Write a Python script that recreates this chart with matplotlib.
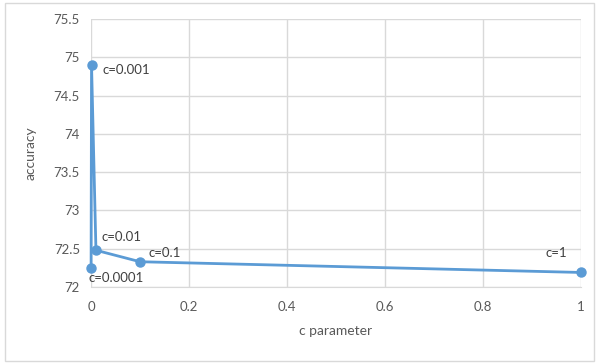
import matplotlib
matplotlib.use("Agg")
import matplotlib.pyplot as plt
from matplotlib.patches import Rectangle

c_values = [0.0001, 0.001, 0.01, 0.1, 1]
accuracy = [72.25, 74.9, 72.48, 72.33, 72.19]
point_labels = ["c=0.0001", "c=0.001", "c=0.01", "c=0.1", "c=1"]
x_ticks = [0, 0.2, 0.4, 0.6, 0.8, 1]
x_ticklabels = ["0", "0.2", "0.4", "0.6", "0.8", "1"]
y_ticks = [72, 72.5, 73, 73.5, 74, 74.5, 75, 75.5]
y_ticklabels = ["72", "72.5", "73", "73.5", "74", "74.5", "75", "75.5"]

plt.rcParams['font.family'] = ['Lato', 'DejaVu Sans']
txt = '#595959'
blue = '#5b9bd5'

fig = plt.figure(figsize=(5.99, 3.64), dpi=100)
fig.patches.append(Rectangle((0.008, 0.008), 0.984, 0.984, transform=fig.transFigure,
                             fill=False, edgecolor='#d9d9d9', linewidth=1))
ax = fig.add_axes([0.152, 0.2115, 0.818, 0.7365])
ax.plot(c_values, accuracy, color=blue, linewidth=2, marker='o', markersize=6.5, zorder=3, clip_on=False)
ax.set_xlim(0, 1)
ax.set_ylim(72, 75.5)
ax.set_xticks(x_ticks)
ax.set_xticklabels(x_ticklabels)
ax.set_yticks(y_ticks)
ax.set_yticklabels(y_ticklabels)
ax.grid(True, color='#d9d9d9', linewidth=1)
ax.set_axisbelow(True)
for s in ax.spines.values():
    s.set_visible(False)
ax.spines['bottom'].set_visible(True)
ax.spines['bottom'].set_color('#d9d9d9')
ax.tick_params(axis='x', length=0, colors=txt, labelsize=9.5, pad=10)
ax.tick_params(axis='y', length=0, colors=txt, labelsize=9.5, pad=8)
ax.set_xlabel('c parameter', color=txt, fontsize=10, labelpad=9)
ax.set_ylabel('accuracy', color=txt, fontsize=10, labelpad=12)

offsets = {
    "c=0.0001": (-2, -3, 'left', 'top'),
    "c=0.001": (8, -4, 'left', 'center'),
    "c=0.01": (4, 5, 'left', 'bottom'),
    "c=0.1": (6, 2, 'left', 'bottom'),
    "c=1": (-18, 10, 'center', 'bottom'),
}
for x, y, lab in zip(c_values, accuracy, point_labels):
    dx, dy, ha, va = offsets[lab]
    ax.annotate(lab, (x, y), xytext=(dx, dy), textcoords='offset points',
                ha=ha, va=va, color='#404040', fontsize=9.5, annotation_clip=False)

fig.savefig('out.png', dpi=100)
